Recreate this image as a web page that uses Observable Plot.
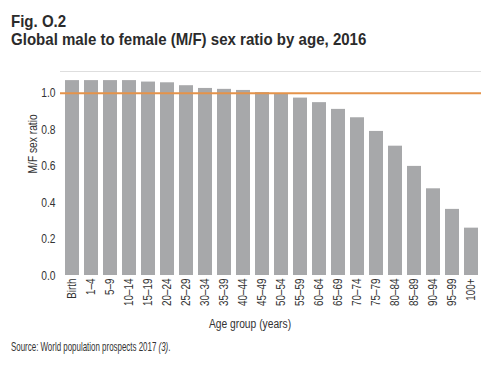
<!DOCTYPE html>
<html>
<head>
<meta charset="utf-8">
<script src="https://cdn.jsdelivr.net/npm/d3@7"></script>
<script src="https://cdn.jsdelivr.net/npm/@observablehq/plot@0.6"></script>
<style>
  body { margin: 0; background: #fff; width: 500px; height: 374px; overflow: hidden;
         font-family: "Liberation Sans", Arial, sans-serif; color: #2b2b2b; }
  .title { position: absolute; left: 11px; font-weight: bold; font-size: 17px; line-height: 15px; color: #2b2b2b;
           white-space: nowrap; transform-origin: left top; transform: scaleX(0.885); }
  #t1 { top: 14px; }
  #t2 { top: 32px; }
  #chart { position: absolute; left: 0; top: 56px; }
  #source { position: absolute; left: 11px; top: 339px; font-size: 13px; line-height: 15px; color: #333; white-space: nowrap;
            transform-origin: left top; transform: scaleX(0.61); }
</style>
</head>
<body>
<div class="title" id="t1">Fig. O.2</div>
<div class="title" id="t2">Global male to female (M/F) sex ratio by age, 2016</div>
<div id="chart"></div>
<div id="source">Source: World population prospects 2017 <i>(3)</i>.</div>
<script>
const ageGroups = ["Birth","1–4","5–9","10–14","15–19","20–24","25–29","30–34","35–39","40–44","45–49","50–54","55–59","60–64","65–69","70–74","75–79","80–84","85–89","90–94","95–99","100+"];
const sexRatio = [1.07,1.07,1.07,1.07,1.062,1.058,1.042,1.027,1.022,1.016,1.004,0.998,0.974,0.949,0.912,0.866,0.791,0.71,0.599,0.476,0.363,0.26];
const yTicks = [0, 0.2, 0.4, 0.6, 0.8, 1.0];
const parityLine = [1.0];
const topLine = [1.12];
const xTitle = "Age group (years)";
const yTitle = "M/F sex ratio";

const data = ageGroups.map((g, i) => ({group: g, ratio: sexRatio[i]}));
const font = '"Liberation Sans", Arial, sans-serif';

const chart = Plot.plot({
  width: 500,
  height: 279,
  marginLeft: 62,
  marginRight: 19,
  marginTop: 15,
  marginBottom: 60,
  style: {fontFamily: font, fontSize: "12px", color: "#333", background: "transparent"},
  x: {domain: ageGroups, paddingInner: 0.24, paddingOuter: 0.08, label: null},
  y: {domain: [0, 1.12], label: null},
  marks: [
    Plot.gridY(yTicks.filter(d => d > 0), {stroke: "#ececec", strokeOpacity: 1, x1: -2}),
    Plot.ruleY(topLine, {stroke: "#dedede", strokeWidth: 1, insetLeft: -2}),
    Plot.barY(data, {x: "group", y: "ratio", fill: "#a7a8aa"}),
    Plot.ruleY(parityLine, {stroke: "#e5934a", strokeWidth: 2, insetLeft: -2}),
    Plot.axisY({ticks: yTicks, tickFormat: d3.format(".1f"), tickSize: 0, tickPadding: 7, fontSize: 12.5, label: null}),
    Plot.axisX({tickSize: 0, tickPadding: 3, tickRotate: -90, fontSize: 12, label: null}),
    Plot.text([yTitle], {frameAnchor: "left", dx: -30, rotate: -90, fontSize: 12.5, fill: "#333"}),
    Plot.text([xTitle], {frameAnchor: "bottom", dx: -22, dy: 52, fontSize: 12.5, fill: "#333"})
  ]
});
document.getElementById("chart").appendChild(chart);
// condensed look: narrow every SVG text a little
d3.select(chart).selectAll("text").each(function() {
  const len = this.getComputedTextLength();
  if (len > 0) {
    this.setAttribute("textLength", (len * 0.82).toFixed(1));
    this.setAttribute("lengthAdjust", "spacingAndGlyphs");
  }
});
</script>
</body>
</html>
